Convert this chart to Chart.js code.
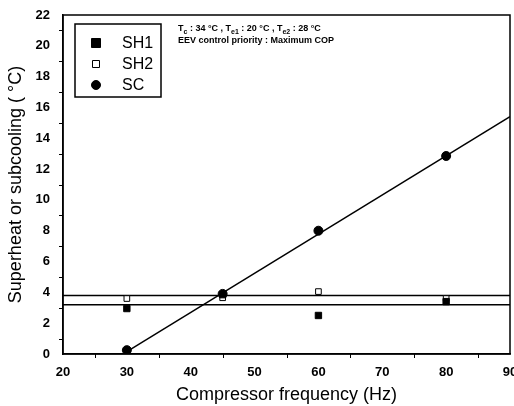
<!DOCTYPE html>
<html>
<head>
<meta charset="utf-8">
<script src="https://cdn.jsdelivr.net/npm/chart.js@4.4.1/dist/chart.umd.min.js"></script>
<style>
  html, body { margin: 0; padding: 0; background: #fff; overflow: hidden; }
  #wrap { width: 530px; height: 406px; position: relative; }
</style>
</head>
<body>
<div id="wrap"><canvas id="chart"></canvas></div>
<script>
// measured points
const freq = [30, 45, 60, 80];
const sh1 = [2.95, 3.85, 2.5, 3.4];
const sh2 = [3.6, 3.65, 4.05, 3.6];
const sc = [0.25, 3.9, 8.0, 12.85];

// fitted lines (end points)
const fitFlatX = [20, 90];
const sh1Fit = [3.2, 3.2];
const sh2Fit = [3.8, 3.8];
const scFitX = [30, 90];
const scFit = [0.15, 15.4];

const xTicks = [20, 30, 40, 50, 60, 70, 80, 90];
const yTicks = [0, 2, 4, 6, 8, 10, 12, 14, 16, 18, 20, 22];

const black = '#000';
const fontFamily = '"Liberation Sans", Arial, sans-serif';

function pts(xs, ys) {
    return xs.map((x, i) => ({x: x, y: ys[i]}));
}

const legendItems = [
    {label: 'SH1', style: 'rect', size: 4.5, fill: black},
    {label: 'SH2', style: 'rect', size: 3.5, fill: '#fff'},
    {label: 'SC', style: 'circle', size: 4.5, fill: black}
];

// frame, minor ticks, legend box and the note
const decorations = {
    id: 'decorations',
    afterDraw(chart) {
        const ctx = chart.ctx;
        const a = chart.chartArea;
        const xs = chart.scales.x;
        const ys = chart.scales.y;
        ctx.save();
        ctx.strokeStyle = black;
        ctx.lineWidth = 1.5;
        ctx.strokeRect(a.left, a.top, a.right - a.left, a.bottom - a.top);

        ctx.lineWidth = 1;
        ctx.beginPath();
        for (let v = 1; v < 22; v += 2) {
            const py = Math.round(ys.getPixelForValue(v)) + 0.5;
            ctx.moveTo(a.left - 4, py);
            ctx.lineTo(a.left, py);
        }
        for (let v = 25; v < 90; v += 10) {
            const px = Math.round(xs.getPixelForValue(v)) + 0.5;
            ctx.moveTo(px, a.bottom);
            ctx.lineTo(px, a.bottom + 4);
        }
        ctx.stroke();

        // legend
        const bx = 75, by = 24, bw = 86, bh = 73;
        ctx.lineWidth = 1.5;
        ctx.strokeRect(bx, by, bw, bh);
        ctx.font = '16px ' + fontFamily;
        ctx.textBaseline = 'middle';
        legendItems.forEach((item, i) => {
            const cy = by + 19 + i * 21;
            const cx = bx + 21;
            ctx.lineWidth = 1;
            ctx.fillStyle = item.fill;
            ctx.beginPath();
            if (item.style === 'rect') {
                ctx.rect(cx - item.size, cy - item.size, item.size * 2, item.size * 2);
            } else {
                ctx.arc(cx, cy, item.size, 0, Math.PI * 2);
            }
            ctx.fill();
            ctx.stroke();
            ctx.fillStyle = black;
            ctx.fillText(item.label, bx + 47, cy + 1);
        });

        // note
        const parts = [
            ['T', 0], ['c', 1], [' : 34 °C , T', 0], ['e1', 1],
            [' : 20 °C , T', 0], ['e2', 1], [' : 28 °C', 0]
        ];
        let tx = 178;
        const ty = 31;
        ctx.textBaseline = 'alphabetic';
        parts.forEach(([s, sub]) => {
            ctx.font = (sub ? 'bold 7px ' : 'bold 9px ') + fontFamily;
            ctx.fillText(s, tx, ty + (sub ? 3 : 0));
            tx += ctx.measureText(s).width;
        });
        ctx.font = 'bold 9px ' + fontFamily;
        ctx.fillText('EEV control priority : Maximum COP', 178, 43);
        ctx.restore();
    }
};

const lineDs = (data) => ({
    type: 'line',
    data: data,
    borderColor: black,
    borderWidth: 1.5,
    pointRadius: 0,
    fill: false
});

new Chart(document.getElementById('chart'), {
    type: 'scatter',
    data: {
        datasets: [
            {label: 'SH1', data: pts(freq, sh1), pointStyle: 'rect', pointRadius: 4.5,
                backgroundColor: black, borderColor: black, borderWidth: 1},
            {label: 'SH2', data: pts(freq, sh2), pointStyle: 'rect', pointRadius: 4,
                backgroundColor: '#fff', borderColor: black, borderWidth: 1},
            {label: 'SC', data: pts(freq, sc), pointStyle: 'circle', pointRadius: 4.5,
                backgroundColor: black, borderColor: black, borderWidth: 1},
            lineDs(pts(fitFlatX, sh1Fit)),
            lineDs(pts(fitFlatX, sh2Fit)),
            lineDs(pts(scFitX, scFit))
        ]
    },
    options: {
        responsive: true,
        maintainAspectRatio: false,
        animation: false,
        layout: {padding: {top: 15, right: 20, left: 0, bottom: 0}},
        plugins: {
            legend: {display: false},
            tooltip: {enabled: false}
        },
        scales: {
            x: {
                type: 'linear',
                min: 20,
                max: 90,
                afterBuildTicks: (s) => { s.ticks = xTicks.map(v => ({value: v})); },
                afterFit: (s) => { s.height = 52; },
                grid: {display: false, drawTicks: true, tickLength: 7, tickColor: black, tickWidth: 1.5},
                border: {display: true, color: black, width: 1.5},
                ticks: {color: black, font: {family: fontFamily, size: 13, weight: 'bold'}, padding: 4, maxRotation: 0},
                title: {display: true, text: 'Compressor frequency (Hz)', color: black,
                    font: {family: fontFamily, size: 18}, padding: {top: 4, bottom: 0}}
            },
            y: {
                type: 'linear',
                min: 0,
                max: 22,
                afterBuildTicks: (s) => { s.ticks = yTicks.map(v => ({value: v})); },
                afterFit: (s) => { s.width = 63; },
                grid: {display: false, drawTicks: true, tickLength: 8, tickColor: black, tickWidth: 1.5},
                border: {display: true, color: black, width: 1.5},
                ticks: {color: black, font: {family: fontFamily, size: 13, weight: 'bold'}, padding: 5},
                title: {display: true, text: 'Superheat or subcooling ( °C)', color: black,
                    font: {family: fontFamily, size: 18}, padding: {top: 5, bottom: 0}}
            }
        }
    },
    plugins: [decorations]
});
</script>
</body>
</html>
